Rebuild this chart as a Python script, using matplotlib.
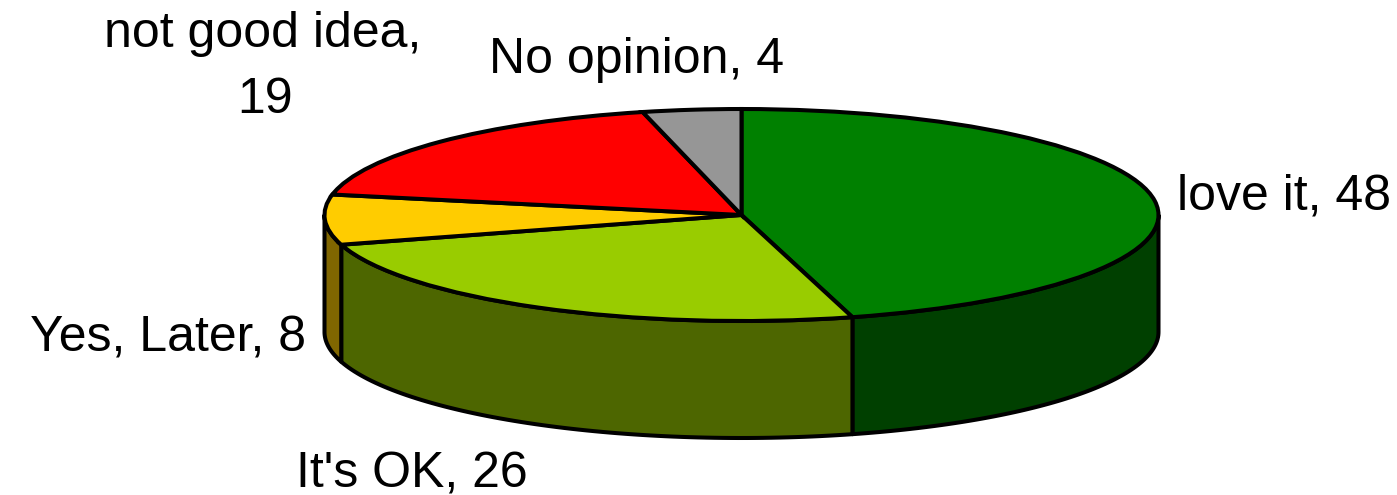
import numpy as np
import matplotlib
matplotlib.use('Agg')
import matplotlib.pyplot as plt

# Data
labels = ['love it', "It's OK", 'Yes, Later', 'not good idea', 'No opinion']
values = [48, 26, 8, 19, 4]
top_colors = ['#008000', '#99CC00', '#FFCC00', '#FF0000', '#969696']
side_colors = ['#004000', '#4D6600', '#806600', '#800000', '#4B4B4B']

W, H = 1397, 495
cx, cy, rx, ry, depth = 741.5, 215, 417, 106, 117

plt.rcParams['font.family'] = ['Liberation Sans', 'DejaVu Sans']
fig = plt.figure(figsize=(W / 100, H / 100), dpi=100)
ax = fig.add_axes([0, 0, 1, 1])

# top face, unit circle stretched to the ellipse through the axis limits
wedges, _ = ax.pie(values, colors=top_colors, startangle=90, counterclock=False,
                   radius=1, center=(0, 0),
                   wedgeprops=dict(edgecolor='black', linewidth=2.9, zorder=3))
ax.set_aspect('auto')
ax.set_xlim((0 - cx) / rx, (W - cx) / rx)
ax.set_ylim((cy - H) / ry, cy / ry)
ax.axis('off')

# side wall, only the front half of the ellipse shows
d = depth / ry
for w, col in zip(wedges, side_colors):
    a1, a2 = w.theta1 % 360, w.theta2 % 360
    if a2 <= a1:
        a2 += 360
    # visible part is 180..360 degrees
    lo, hi = max(a1, 180), min(a2, 360)
    if hi <= lo:
        continue
    t = np.radians(np.linspace(lo, hi, 80))
    xs = np.cos(t)
    ys = np.sin(t)
    ax.fill(np.r_[xs, xs[::-1]], np.r_[ys, ys[::-1] - d], facecolor=col,
            edgecolor='black', linewidth=2.9, zorder=2, joinstyle='round')

def px(x, y):
    return (x - cx) / rx, (cy - y) / ry

# labels, anchored on the text baseline
fs = 36
ax.text(*px(1177, 210), f'{labels[0]}, {values[0]}', fontsize=fs, ha='left', va='baseline')
ax.text(*px(412, 487), f'{labels[1]}, {values[1]}', fontsize=fs, ha='center', va='baseline')
ax.text(*px(306, 351), f'{labels[2]}, {values[2]}', fontsize=fs, ha='right', va='baseline')
ax.text(*px(263, 47), f'{labels[3]},', fontsize=fs, ha='center', va='baseline')
ax.text(*px(265, 113), f'{values[3]}', fontsize=fs, ha='center', va='baseline')
ax.text(*px(637, 73), f'{labels[4]}, {values[4]}', fontsize=fs, ha='center', va='baseline')

fig.savefig('out.png', dpi=100)
